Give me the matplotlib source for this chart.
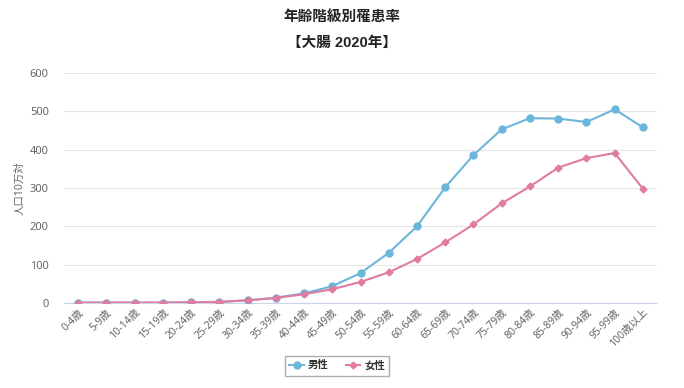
import matplotlib
matplotlib.use("Agg")
from matplotlib import pyplot as plt
from matplotlib.ticker import MultipleLocator

plt.rcParams['font.family'] = ['Noto Sans', 'Noto Sans CJK JP', 'DejaVu Sans']

ages = ["0-4歳", "5-9歳", "10-14歳", "15-19歳", "20-24歳", "25-29歳", "30-34歳",
        "35-39歳", "40-44歳", "45-49歳", "50-54歳", "55-59歳", "60-64歳", "65-69歳",
        "70-74歳", "75-79歳", "80-84歳", "85-89歳", "90-94歳", "95-99歳", "100歳以上"]
male = [1, 1, 1, 1, 2, 3, 7, 14, 25, 44, 78, 131, 200, 302, 386, 453, 482, 481, 472, 505, 458]
female = [1, 1, 1, 1, 2, 3, 7, 13, 23, 36, 55, 80, 115, 158, 205, 260, 304, 353, 378, 391, 298]

c_male = "#6cb6dc"
c_female = "#e07c9f"

fig = plt.figure(figsize=(6.84, 3.88), dpi=100)
ax = fig.add_axes([0.0936, 0.219, 0.867, 0.593])

x = list(range(len(ages)))
ax.plot(x, male, color=c_male, marker="o", markersize=5, linewidth=1.5, label="男性", zorder=3)
ax.plot(x, female, color=c_female, marker="D", markersize=3.5, linewidth=1.5, label="女性", zorder=4)

ax.set_xlim(-0.5, len(ages) - 0.5)
ax.set_ylim(0, 600)
ax.yaxis.set_major_locator(MultipleLocator(100))
ax.grid(axis="y", color="#e6e6e6", linewidth=0.8)
ax.set_axisbelow(True)
for s in ["top", "right", "left"]:
    ax.spines[s].set_visible(False)
ax.spines["bottom"].set_color("#ccd6eb")
ax.tick_params(axis="both", length=0, colors="#666666")
ax.tick_params(axis="y", pad=11, labelsize=8)
ax.tick_params(axis="x", pad=3, labelsize=7.5)
ax.set_xticks(x)
ax.set_xticklabels(ages, rotation=45, ha="right", rotation_mode="anchor")
ax.set_ylabel("人口10万対", fontsize=7.5, color="#666666", labelpad=3)

title_font = ['Liberation Sans', 'Noto Sans CJK JP']
fig.text(0.5, 0.955, "年齢階級別罹患率", ha="center", va="center", fontsize=10.5,
         fontweight="bold", color="#222222", family=title_font)
fig.text(0.5, 0.89, "【大腸 2020年】", ha="center", va="center", fontsize=10.5,
         fontweight="bold", color="#222222", family=title_font)

leg = fig.legend(loc="center", bbox_to_anchor=(0.493, 0.057), ncol=2, fontsize=7.5,
                 frameon=True, fancybox=False, edgecolor="#999999", handlelength=1.4,
                 handletextpad=0.4, columnspacing=1.6, borderpad=0.4)
for t in leg.get_texts():
    t.set_fontweight("bold")
    t.set_color("#333333")

fig.savefig("out.png", dpi=100)
